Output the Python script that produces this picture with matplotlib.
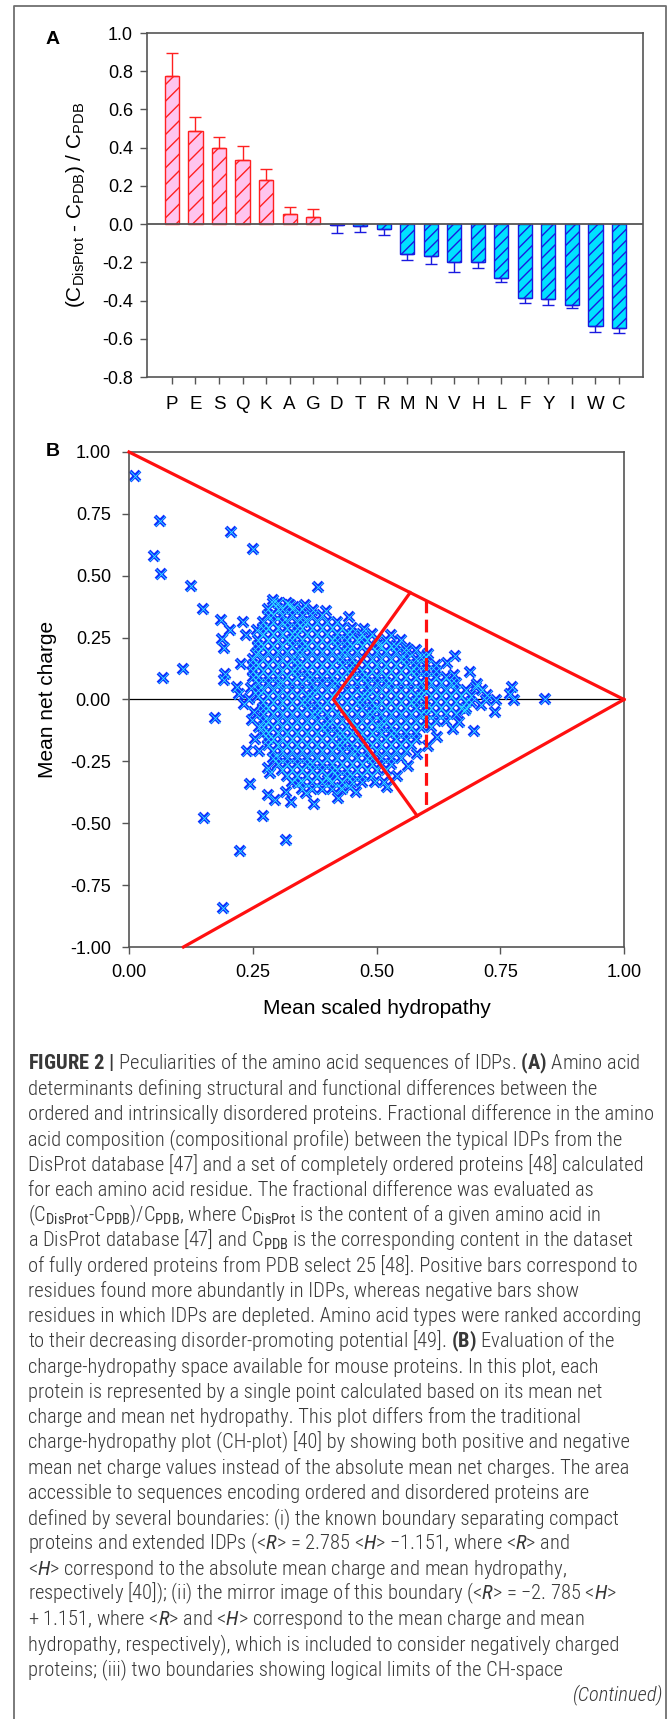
import matplotlib
matplotlib.use("Agg")
import matplotlib.pyplot as plt
from matplotlib import font_manager
from matplotlib.lines import Line2D

# ---------------- data ----------------
# panel A: fractional difference (C_DisProt - C_PDB) / C_PDB
residues = ['P', 'E', 'S', 'Q', 'K', 'A', 'G', 'D', 'T', 'R',
            'M', 'N', 'V', 'H', 'L', 'F', 'Y', 'I', 'W', 'C']
frac_diff = [0.776, 0.489, 0.399, 0.336, 0.232, 0.054, 0.036, -0.007, -0.012, -0.023,
             -0.158, -0.166, -0.196, -0.199, -0.282, -0.386, -0.392, -0.421, -0.534, -0.541]
frac_err = [0.117, 0.074, 0.055, 0.075, 0.056, 0.033, 0.045, 0.042, 0.031, 0.032,
            0.029, 0.045, 0.055, 0.030, 0.023, 0.026, 0.033, 0.017, 0.029, 0.031]
a_yticks = [-0.8, -0.6, -0.4, -0.2, 0.0, 0.2, 0.4, 0.6, 0.8, 1.0]

# panel B: mouse proteins, mean scaled hydropathy <H> vs mean net charge <R>
outlier_h = [0.013, 0.062, 0.051, 0.065, 0.068, 0.110, 0.125, 0.149, 0.206, 0.250,
             0.173, 0.186, 0.188, 0.192, 0.194, 0.192, 0.205, 0.219, 0.222, 0.233,
             0.230, 0.226, 0.238, 0.245, 0.258, 0.257, 0.280, 0.285, 0.381, 0.398,
             0.444, 0.474, 0.659, 0.657, 0.696, 0.739, 0.741, 0.722, 0.703, 0.774,
             0.777, 0.770, 0.840, 0.666, 0.679, 0.713,
             0.151, 0.190, 0.225, 0.270, 0.317, 0.281, 0.294, 0.328, 0.373, 0.357,
             0.423, 0.429, 0.459, 0.496, 0.515, 0.342, 0.403,
             0.262, 0.255, 0.262, 0.600, 0.620, 0.605, 0.291, 0.326, 0.550, 0.530,
             0.580, 0.560, 0.590,
             0.355, 0.372, 0.334, 0.352, 0.468, 0.503, 0.563, 0.542, 0.522, 0.581,
             0.604, 0.622, 0.702, 0.712, 0.724, 0.243, 0.247, 0.252, 0.249, 0.236,
             0.318, 0.447, 0.655, 0.642, 0.688]
outlier_r = [0.902, 0.721, 0.581, 0.506, 0.088, 0.123, 0.459, 0.364, 0.678, 0.607,
             -0.075, 0.323, 0.246, 0.209, 0.104, 0.080, 0.279, 0.050, 0.021, -0.020,
             0.313, 0.145, -0.209, -0.340, 0.282, 0.185, -0.277, -0.297, 0.455, 0.358,
             0.333, 0.285, 0.177, 0.098, -0.127, -0.051, -0.003, -0.003, 0.064, 0.050,
             -0.003, 0.024, 0.000, -0.091, -0.044, 0.037,
             -0.480, -0.843, -0.611, -0.470, -0.568, -0.386, -0.406, -0.413, -0.424, -0.379,
             -0.399, -0.359, -0.375, -0.332, -0.332, -0.336, -0.325,
             -0.110, -0.160, -0.210, 0.170, 0.140, 0.185, 0.400, 0.380, 0.240, 0.260,
             0.200, 0.210, 0.170,
             0.382, 0.363, 0.372, 0.315, 0.243, 0.222, -0.268, -0.309, -0.352, -0.222,
             -0.188, -0.151, 0.052, -0.021, 0.018, 0.003, 0.048, -0.051, -0.083, 0.262,
             -0.372, -0.352, -0.118, 0.148, 0.112]

# dense core of the cloud, read row by row (charge, hydropathy values)
core_rows = [
    (0.390, [0.29, 0.30, 0.32]),
    (0.365, [0.28, 0.30, 0.31, 0.33, 0.35]),
    (0.340, [0.28, 0.29, 0.31, 0.33, 0.35, 0.37, 0.39]),
    (0.315, [0.27, 0.29, 0.31, 0.32, 0.34, 0.36, 0.38, 0.40, 0.42]),
    (0.290, [0.27, 0.28, 0.30, 0.32, 0.34, 0.35, 0.37, 0.39, 0.41, 0.43, 0.45]),
    (0.265, [0.27, 0.29, 0.31, 0.33, 0.34, 0.36, 0.38, 0.40, 0.42, 0.44, 0.45, 0.47, 0.49]),
    (0.240, [0.26, 0.28, 0.30, 0.32, 0.33, 0.35, 0.37, 0.39, 0.41, 0.42, 0.44, 0.46, 0.48,
             0.50, 0.52]),
    (0.215, [0.26, 0.27, 0.29, 0.31, 0.33, 0.35, 0.36, 0.38, 0.40, 0.42, 0.44, 0.45, 0.47,
             0.49, 0.51, 0.53, 0.54]),
    (0.190, [0.26, 0.28, 0.30, 0.32, 0.34, 0.35, 0.37, 0.39, 0.41, 0.43, 0.44, 0.46, 0.48,
             0.50, 0.52, 0.54, 0.56]),
    (0.165, [0.25, 0.27, 0.29, 0.31, 0.33, 0.34, 0.36, 0.38, 0.40, 0.42, 0.43, 0.45, 0.47,
             0.49, 0.51, 0.53, 0.55, 0.56, 0.58]),
    (0.140, [0.25, 0.26, 0.28, 0.30, 0.32, 0.34, 0.35, 0.37, 0.39, 0.41, 0.43, 0.45, 0.46,
             0.48, 0.50, 0.52, 0.54, 0.56, 0.58, 0.60]),
    (0.115, [0.25, 0.27, 0.29, 0.31, 0.33, 0.34, 0.36, 0.38, 0.40, 0.42, 0.44, 0.45, 0.47,
             0.49, 0.51, 0.53, 0.55, 0.57, 0.58, 0.60, 0.62]),
    (0.090, [0.25, 0.26, 0.28, 0.30, 0.32, 0.34, 0.36, 0.37, 0.39, 0.41, 0.43, 0.45, 0.47,
             0.48, 0.50, 0.52, 0.54, 0.56, 0.58, 0.60, 0.62, 0.64]),
    (0.065, [0.26, 0.28, 0.30, 0.31, 0.33, 0.35, 0.37, 0.39, 0.41, 0.42, 0.44, 0.46, 0.48,
             0.50, 0.52, 0.53, 0.55, 0.57, 0.59, 0.61, 0.63, 0.65, 0.66]),
    (0.040, [0.26, 0.27, 0.29, 0.31, 0.33, 0.35, 0.37, 0.38, 0.40, 0.42, 0.44, 0.46, 0.48,
             0.49, 0.51, 0.53, 0.55, 0.57, 0.59, 0.60, 0.62, 0.64, 0.66, 0.68]),
    (0.015, [0.26, 0.28, 0.30, 0.32, 0.34, 0.36, 0.37, 0.39, 0.41, 0.43, 0.45, 0.47, 0.48,
             0.50, 0.52, 0.54, 0.56, 0.58, 0.59, 0.61, 0.63, 0.65, 0.67, 0.69]),
    (-0.010, [0.27, 0.29, 0.31, 0.33, 0.35, 0.36, 0.38, 0.40, 0.42, 0.44, 0.46, 0.47, 0.49,
              0.51, 0.53, 0.55, 0.57, 0.58, 0.60, 0.62, 0.64, 0.66, 0.68, 0.69]),
    (-0.035, [0.27, 0.28, 0.30, 0.32, 0.34, 0.36, 0.38, 0.39, 0.41, 0.43, 0.45, 0.47, 0.49,
              0.50, 0.52, 0.54, 0.56, 0.58, 0.60, 0.61, 0.63, 0.65, 0.67, 0.68]),
    (-0.060, [0.27, 0.29, 0.31, 0.33, 0.35, 0.37, 0.38, 0.40, 0.42, 0.44, 0.46, 0.48, 0.49,
              0.51, 0.53, 0.55, 0.57, 0.59, 0.60, 0.62, 0.64, 0.66]),
    (-0.085, [0.27, 0.28, 0.30, 0.32, 0.34, 0.36, 0.38, 0.40, 0.41, 0.43, 0.45, 0.47, 0.49,
              0.51, 0.52, 0.54, 0.56, 0.58, 0.60, 0.62, 0.64]),
    (-0.110, [0.27, 0.29, 0.31, 0.33, 0.35, 0.37, 0.39, 0.40, 0.42, 0.44, 0.46, 0.48, 0.50,
              0.51, 0.53, 0.55, 0.57, 0.59, 0.61]),
    (-0.135, [0.27, 0.28, 0.30, 0.32, 0.34, 0.36, 0.38, 0.40, 0.42, 0.43, 0.45, 0.47, 0.49,
              0.51, 0.53, 0.54, 0.56, 0.58]),
    (-0.160, [0.28, 0.29, 0.31, 0.33, 0.35, 0.37, 0.39, 0.41, 0.43, 0.44, 0.46, 0.48, 0.50,
              0.52, 0.54, 0.56, 0.58]),
    (-0.185, [0.28, 0.30, 0.32, 0.34, 0.36, 0.38, 0.40, 0.42, 0.43, 0.45, 0.47, 0.49, 0.51,
              0.53, 0.55, 0.57]),
    (-0.210, [0.29, 0.31, 0.33, 0.35, 0.37, 0.39, 0.41, 0.43, 0.45, 0.46, 0.48, 0.50, 0.52,
              0.54, 0.56]),
    (-0.235, [0.29, 0.30, 0.32, 0.34, 0.36, 0.38, 0.40, 0.42, 0.44, 0.46, 0.48, 0.49, 0.51,
              0.53, 0.55]),
    (-0.260, [0.30, 0.32, 0.34, 0.36, 0.37, 0.39, 0.41, 0.43, 0.45, 0.47, 0.49, 0.51, 0.53]),
    (-0.285, [0.31, 0.33, 0.35, 0.37, 0.39, 0.41, 0.42, 0.44, 0.46, 0.48, 0.50, 0.52]),
    (-0.310, [0.32, 0.34, 0.36, 0.38, 0.40, 0.42, 0.44, 0.45, 0.47, 0.49]),
    (-0.335, [0.33, 0.35, 0.37, 0.39, 0.41, 0.43, 0.45, 0.47]),
    (-0.360, [0.35, 0.37, 0.39, 0.41, 0.43]),
]

# boundaries of the CH-space
limit_up_h, limit_up_r = [0.0, 1.0], [1.0, 0.0]
limit_low_h, limit_low_r = [0.11, 1.0], [-1.0, 0.0]
ch_h, ch_r = [0.568, 0.413, 0.582], [0.432, 0.0, -0.470]
dash_h, dash_r = [0.60, 0.60], [0.40, -0.45]
b_ticks = [0.0, 0.25, 0.50, 0.75, 1.00]
b_yticks = [-1.0, -0.75, -0.5, -0.25, 0.0, 0.25, 0.5, 0.75, 1.0]

caption_lines = [
    r'$\mathbf{FIGURE\ 2\ |}$ Peculiarities of the amino acid sequences of IDPs. $\mathbf{(A)}$ Amino acid',
    'determinants defining structural and functional differences between the',
    'ordered and intrinsically disordered proteins. Fractional difference in the amino',
    'acid composition (compositional profile) between the typical IDPs from the',
    'DisProt database [47] and a set of completely ordered proteins [48] calculated',
    'for each amino acid residue. The fractional difference was evaluated as',
    r'(C$_{\mathsf{DisProt}}$-C$_{\mathsf{PDB}}$)/C$_{\mathsf{PDB}}$, where C$_{\mathsf{DisProt}}$ is the content of a given amino acid in',
    r'a DisProt database [47] and C$_{\mathsf{PDB}}$ is the corresponding content in the dataset',
    'of fully ordered proteins from PDB select 25 [48]. Positive bars correspond to',
    'residues found more abundantly in IDPs, whereas negative bars show',
    'residues in which IDPs are depleted. Amino acid types were ranked according',
    r'to their decreasing disorder-promoting potential [49]. $\mathbf{(B)}$ Evaluation of the',
    'charge-hydropathy space available for mouse proteins. In this plot, each',
    'protein is represented by a single point calculated based on its mean net',
    'charge and mean net hydropathy. This plot differs from the traditional',
    'charge-hydropathy plot (CH-plot) [40] by showing both positive and negative',
    'mean net charge values instead of the absolute mean net charges. The area',
    'accessible to sequences encoding ordered and disordered proteins are',
    'defined by several boundaries: (i) the known boundary separating compact',
    r'proteins and extended IDPs (<$\mathit{R}$> = 2.785 <$\mathit{H}$> −1.151, where <$\mathit{R}$> and',
    r'<$\mathit{H}$> correspond to the absolute mean charge and mean hydropathy,',
    r'respectively [40]); (ii) the mirror image of this boundary (<$\mathit{R}$> = −2. 785 <$\mathit{H}$>',
    r'+ 1.151, where <$\mathit{R}$> and <$\mathit{H}$> correspond to the mean charge and mean',
    'hydropathy, respectively), which is included to consider negatively charged',
    'proteins; (iii) two boundaries showing logical limits of the CH-space',
]

# ---------------- style ----------------
names = {f.name for f in font_manager.fontManager.ttflist}
cap_font = 'Liberation Sans'
for cand in ['Roboto Condensed', 'Liberation Sans Narrow', 'Archivo Narrow',
             'PT Sans Narrow', 'Asap Condensed']:
    if cand in names:
        cap_font = cand
        break

plt.rcParams['font.family'] = ['Liberation Sans', 'DejaVu Sans']
plt.rcParams['axes.unicode_minus'] = False
plt.rcParams['mathtext.fontset'] = 'custom'
plt.rcParams['mathtext.rm'] = 'Liberation Sans'
plt.rcParams['mathtext.sf'] = cap_font
plt.rcParams['mathtext.it'] = cap_font + ':italic'
plt.rcParams['mathtext.bf'] = cap_font + ':bold'
plt.rcParams['hatch.linewidth'] = 1.0

W, H = 669, 1719
fig = plt.figure(figsize=(W / 100, H / 100), dpi=100)


def box(l, t, r, b):
    return [l / W, 1 - b / H, (r - l) / W, (b - t) / H]


frame_col = '#707070'
axis_col = '#555555'

# outer frame (open at the bottom)
fig.add_artist(Line2D([14 / W, 14 / W, 666 / W, 666 / W], [0, 1 - 6 / H, 1 - 6 / H, 0],
                      transform=fig.transFigure, color=frame_col, lw=1.3))

# ---------------- panel A ----------------
axA = fig.add_axes(box(147, 33, 643, 377))
idx = list(range(len(residues)))
pos = [i for i in idx if frac_diff[i] >= 0]
neg = [i for i in idx if frac_diff[i] < 0]

axA.bar(pos, [frac_diff[i] for i in pos], width=0.6, color='#FFC4EE',
        edgecolor='#FF2020', hatch='//', linewidth=1.0, zorder=2)
axA.bar(neg, [frac_diff[i] for i in neg], width=0.6, color='#00E2FF',
        edgecolor='#1A1AE0', hatch='///', linewidth=1.0, zorder=2)
axA.errorbar(pos, [frac_diff[i] for i in pos],
             yerr=[[0] * len(pos), [frac_err[i] for i in pos]],
             fmt='none', ecolor='#FF2020', elinewidth=1.0, capsize=4.5, capthick=1.0, zorder=3)
axA.errorbar(neg, [frac_diff[i] for i in neg],
             yerr=[[frac_err[i] for i in neg], [0] * len(neg)],
             fmt='none', ecolor='#1A1AE0', elinewidth=1.0, capsize=4.5, capthick=1.0, zorder=3)
axA.axhline(0, color=axis_col, lw=1.3, zorder=4)

axA.set_xlim(-1.06, 20.02)
axA.set_ylim(-0.8, 1.0)
axA.set_yticks(a_yticks)
axA.set_yticklabels(['%.1f' % v for v in a_yticks], fontsize=13)
axA.set_xticks(idx)
axA.set_xticklabels(residues, fontsize=13.5)
axA.tick_params(axis='x', direction='out', length=5, width=1, color=axis_col, pad=8.5)
axA.tick_params(axis='y', direction='out', length=5, width=1, color=axis_col, pad=5)
for s in axA.spines.values():
    s.set_color(axis_col)
    s.set_linewidth(1.2)
axA.text(-0.145, 0.5, r'(C$_{\mathrm{DisProt}}$ - C$_{\mathrm{PDB}}$) / C$_{\mathrm{PDB}}$',
         transform=axA.transAxes, rotation=90, ha='center', va='center', fontsize=15)
fig.text(53 / W, 1 - 39 / H, 'A', fontsize=14, fontweight='bold', ha='center', va='center')

# ---------------- panel B ----------------
axB = fig.add_axes(box(129, 452, 624, 947))
pts_h = list(outlier_h)
pts_r = list(outlier_r)
for r, hs in core_rows:
    pts_h += hs
    pts_r += [r] * len(hs)

axB.axhline(0, color='black', lw=0.9, zorder=1)
axB.plot(pts_h, pts_r, linestyle='none', marker='x', ms=7.5, mew=2.8, color='#1030FF', zorder=2)
axB.plot(pts_h, pts_r, linestyle='none', marker='x', ms=7.5, mew=0.6, color='#30E8FF', zorder=2)

red = '#FF1010'
axB.plot(limit_up_h, limit_up_r, color=red, lw=2.3, zorder=3, clip_on=False)
axB.plot(limit_low_h, limit_low_r, color=red, lw=2.3, zorder=3, clip_on=False)
axB.plot(ch_h, ch_r, color=red, lw=2.3, zorder=3)
axB.plot(dash_h, dash_r, color=red, lw=2.3, ls=(0, (4, 2)), zorder=3)

axB.set_xlim(0, 1)
axB.set_ylim(-1, 1)
axB.set_xticks(b_ticks)
axB.set_xticklabels(['%.2f' % v for v in b_ticks], fontsize=13)
axB.set_yticks(b_yticks)
axB.set_yticklabels(['%.2f' % v for v in b_yticks], fontsize=13)
axB.tick_params(axis='x', direction='out', length=5, width=1, color=axis_col, pad=7)
axB.tick_params(axis='y', direction='out', length=5, width=1, color=axis_col, pad=8)
for s in axB.spines.values():
    s.set_color(axis_col)
    s.set_linewidth(1.2)
axB.text(0.5, -(1008 - 947) / 495, 'Mean scaled hydropathy', transform=axB.transAxes,
         ha='center', va='center', fontsize=15)
axB.text((48 - 129) / 495, 0.5, 'Mean net charge', transform=axB.transAxes,
         rotation=90, ha='center', va='center', fontsize=15)
fig.text(53 / W, 1 - 452 / H, 'B', fontsize=14, fontweight='bold', ha='center', va='center')

# ---------------- caption ----------------
cap_col = '#383838'
cap_texts = []
for i, line in enumerate(caption_lines):
    base = 1063 + 25.25 * i + 6.5
    t = fig.text(28.5 / W, 1 - base / H, line, ha='left', va='baseline',
                 fontsize=13, color=cap_col, family=cap_font, fontweight='light')
    cap_texts.append(t)
t = fig.text(663 / W, 1 - 1700 / H, '(Continued)', ha='right', va='baseline',
             fontsize=13, color=cap_col, family=cap_font, fontweight='light', style='italic')
cap_texts.append(t)

# fit caption size to the measured line width
fig.canvas.draw()
rend = fig.canvas.get_renderer()
w = cap_texts[2].get_window_extent(rend).width
size = 13 * 621 / w
for t in cap_texts:
    t.set_fontsize(size)

fig.savefig('out.png', dpi=100)
